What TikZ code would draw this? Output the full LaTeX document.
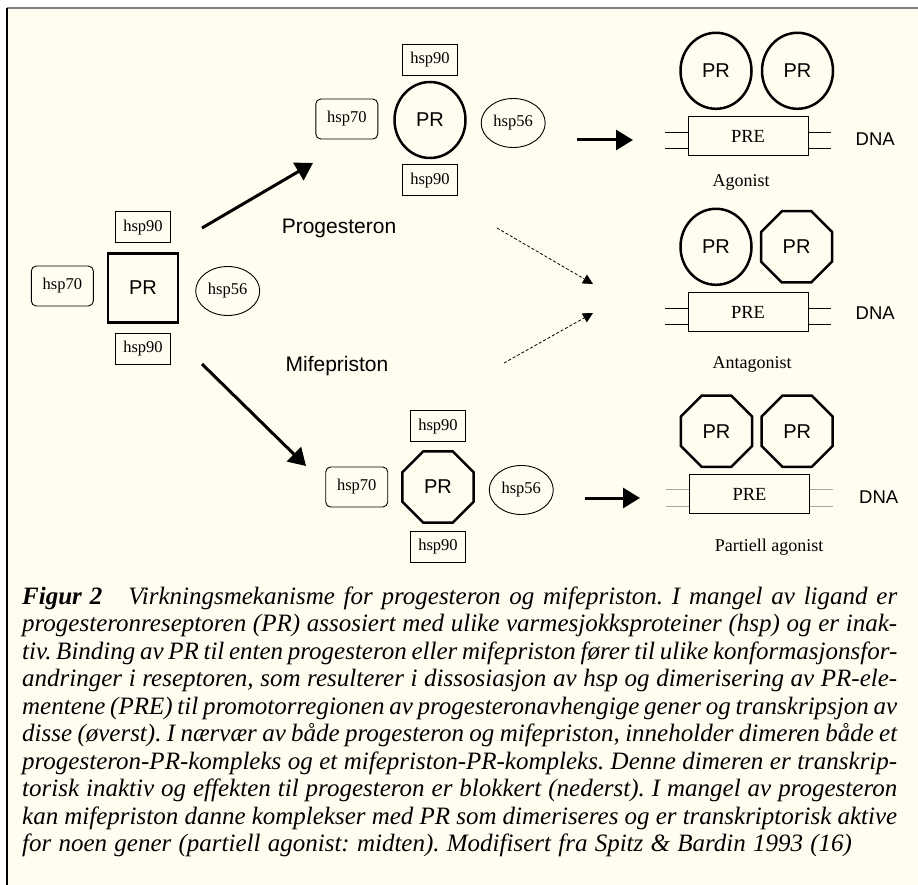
\documentclass[tikz,border=0pt]{standalone}
\usepackage{fontspec}
\setmainfont{Liberation Serif}
\setsansfont{Liberation Sans}
\usepackage{tikz}
\usetikzlibrary{arrows.meta,positioning,calc,shapes.geometric}
\definecolor{paper}{RGB}{255,252,240}
\newcommand{\capl}[1]{\hbox to 875pt{#1}}
\tikzset{
    hbx/.style={ % hsp90 box
        rectangle,
        draw=black,
        line width=0.9pt,
        minimum width=55pt,
        minimum height=31pt,
        inner sep=0pt,
        font=\fontsize{16.5}{18}\selectfont
        },
    hbxr/.style={ % hsp70, rounded
        hbx,
        rounded corners=5pt,
        minimum width=62pt,
        minimum height=40pt
        },
    hell/.style={ % hsp56
        hbx,
        ellipse,
        minimum width=64pt,
        minimum height=49pt
        },
    prsq/.style={ % receptor, free
        rectangle,
        draw=black,
        line width=2.5pt,
        minimum width=70pt,
        minimum height=69pt,
        inner sep=0pt,
        font=\sffamily\fontsize{20}{24}\selectfont
        },
    prc/.style={ % receptor with progesteron
        prsq,
        ellipse,
        minimum width=71pt,
        minimum height=76pt
        },
    proct/.style={ % receptor with mifepriston
        prsq,
        regular polygon,
        regular polygon sides=8,
        minimum size=77pt
        },
    prebx/.style={
        rectangle,
        draw=black,
        line width=0.9pt,
        minimum width=120pt,
        minimum height=39pt,
        inner sep=0pt,
        font=\fontsize{18.5}{20}\selectfont
        },
    dnal/.style={
        line width=0.9pt
        },
    lbl/.style={
        inner sep=0pt,
        font=\fontsize{18}{20}\selectfont
        },
    slbl/.style={
        inner sep=0pt,
        font=\sffamily\fontsize{21}{24}\selectfont
        },
    dna/.style={
        inner sep=0pt,
        font=\sffamily\fontsize{18.5}{20}\selectfont
        },
    arrout/.style={
        -{Triangle[length=17pt,width=20pt]},
        line width=3pt
        },
    arrdash/.style={
        -{Triangle[length=10pt,width=10pt]},
        dash pattern=on 3pt off 2pt,
        line width=0.8pt
        }
}

\begin{document}
\begin{tikzpicture}[x=1pt,y=-1pt]
    \useasboundingbox (0,0) rectangle (918,885);
    \fill[white] (0,0) rectangle (918,885);
    \fill[paper] (7,8) rectangle (918,885);
    \draw[gray,line width=1.2pt] (7,8) -- (918,8);
    \draw[line width=1.5pt] (7,8) -- (7,885);

    %%%%% free receptor
    \node[prsq] (pr0) at (143,288) {PR};
    \node[hbx,above=9pt of pr0] (h90t0) {hsp90};
    \node[hbx,below=9pt of pr0] (h90b0) {hsp90};
    \node[hbxr,left=13pt of pr0,yshift=2pt] (h70s0) {hsp70};
    \node[hell,right=16pt of pr0,yshift=-3pt] (h56e0) {hsp56};

    %%%%% receptor with progesteron
    \node[prc] (prA) at (430,120) {PR};
    \node[hbx,above=5pt of prA] (h90tA) {hsp90};
    \node[hbx,below=5pt of prA] (h90bA) {hsp90};
    \node[hbxr,left=15pt of prA,yshift=1pt] (h70sA) {hsp70};
    \node[hell,right=14pt of prA,yshift=-3pt] (h56eA) {hsp56};

    %%%%% receptor with mifepriston
    \node[proct] (prB) at (438,487) {PR};
    \node[hbx,above=8pt of prB] (h90tB) {hsp90};
    \node[hbx,below=7pt of prB] (h90bB) {hsp90};
    \node[hbxr,left=13pt of prB] (h70sB) {hsp70};
    \node[hell,right=14pt of prB,yshift=-3pt] (h56eB) {hsp56};

    %%%%% ligand labels
    \node[slbl] (lprog) at (339,228) {Progesteron};
    \node[slbl] (lmife) at (337,366) {Mifepriston};

    %%%%% dimer 1: agonist
    \node[prebx] (pre1) at (748,136) {PRE};
    \node[prc,above=6pt of pre1,xshift=-32pt] (d1a) {PR};
    \node[prc,right=8pt of d1a] (d1b) {PR};
    \node[dna,right=47pt of pre1,yshift=-3pt] (dna1) {DNA};
    \node[lbl] (ag1) at (741,182) {Agonist};

    %%%%% dimer 2: antagonist
    \node[prebx] (pre2) at (748,312) {PRE};
    \node[prc,above=6pt of pre2,xshift=-32pt] (d2a) {PR};
    \node[proct,right=7pt of d2a] (d2b) {PR};
    \node[dna,right=47pt of pre2,yshift=-1pt] (dna2) {DNA};
    \node[lbl] (ag2) at (752,364) {Antagonist};

    %%%%% dimer 3: partial agonist
    \node[prebx] (pre3) at (749.5,494) {PRE};
    \node[proct,above=6pt of pre3,xshift=-33pt] (d3a) {PR};
    \node[proct,right=7pt of d3a] (d3b) {PR};
    \node[dna,right=49pt of pre3,yshift=-3pt] (dna3) {DNA};
    \node[lbl] (ag3) at (769,547) {Partiell agonist};

    %%%%% DNA strands
    \foreach \p in {pre1,pre2} {
        \foreach \dy in {-4,12} {
            \draw[dnal] ($(\p.west)+(0,\dy)$) -- +(-23,0);
            \draw[dnal] ($(\p.east)+(0,\dy)$) -- +(23,0);
        }
    }
    \foreach \dy in {-5,12} {
        \draw[dnal,gray!70,line width=0.6pt] ($(pre3.west)+(0,\dy)$) -- +(-23,0);
        \draw[dnal,gray!70,line width=0.6pt] ($(pre3.east)+(0,\dy)$) -- +(23,0);
    }

    %%%%% arrows
    \coordinate (a1s) at (202,228);
    \coordinate (a1e) at (313,163);
    \coordinate (a2s) at (202,364);
    \coordinate (a2e) at (306,466);
    \coordinate (a3s) at (577,140);
    \coordinate (a3e) at (633,140);
    \coordinate (a4s) at (585,498);
    \coordinate (a4e) at (640,498);
    \coordinate (d1s) at (497,228);
    \coordinate (d1e) at (593,284);
    \coordinate (d2s) at (504,363);
    \coordinate (d2e) at (593,313);
    \draw[arrout] (a1s) -- (a1e);
    \draw[arrout] (a2s) -- (a2e);
    \draw[arrout] (a3s) -- (a3e);
    \draw[arrout] (a4s) -- (a4e);
    \draw[arrdash] (d1s) -- (d1e);
    \draw[arrdash] (d2s) -- (d2e);

    %%%%% caption
    \node[anchor=base west,inner sep=0pt,
        font=\fontsize{25}{27.5}\selectfont\itshape] (cap) at (22,604) {\vtop{
        \frenchspacing\spaceskip=0.2em plus 0.6em minus 0.05em
        \capl{\textbf{Figur\hspace{8pt}2}\hspace{26pt}Virkningsmekanisme for progesteron og mifepriston. I mangel av ligand er}
        \capl{progesteronreseptoren (PR) assosiert med ulike varmesjokksproteiner (hsp) og er inak-}
        \capl{tiv. Binding av PR til enten progesteron eller mifepriston fører til ulike konformasjonsfor-}
        \capl{andringer i reseptoren, som resulterer i dissosiasjon av hsp og dimerisering av PR-ele-}
        \capl{mentene (PRE) til promotorregionen av progesteronavhengige gener og transkripsjon av}
        \capl{disse (øverst). I nærvær av både progesteron og mifepriston, inneholder dimeren både et}
        \capl{progesteron-PR-kompleks og et mifepriston-PR-kompleks. Denne dimeren er transkrip-}
        \capl{torisk inaktiv og effekten til progesteron er blokkert (nederst). I mangel av progesteron}
        \capl{kan mifepriston danne komplekser med PR som dimeriseres og er transkriptorisk aktive}
        \hbox{\spaceskip=0.29em for noen gener (partiell agonist: midten). Modifisert fra Spitz \& Bardin 1993 (16)}}};
\end{tikzpicture}
\end{document}
